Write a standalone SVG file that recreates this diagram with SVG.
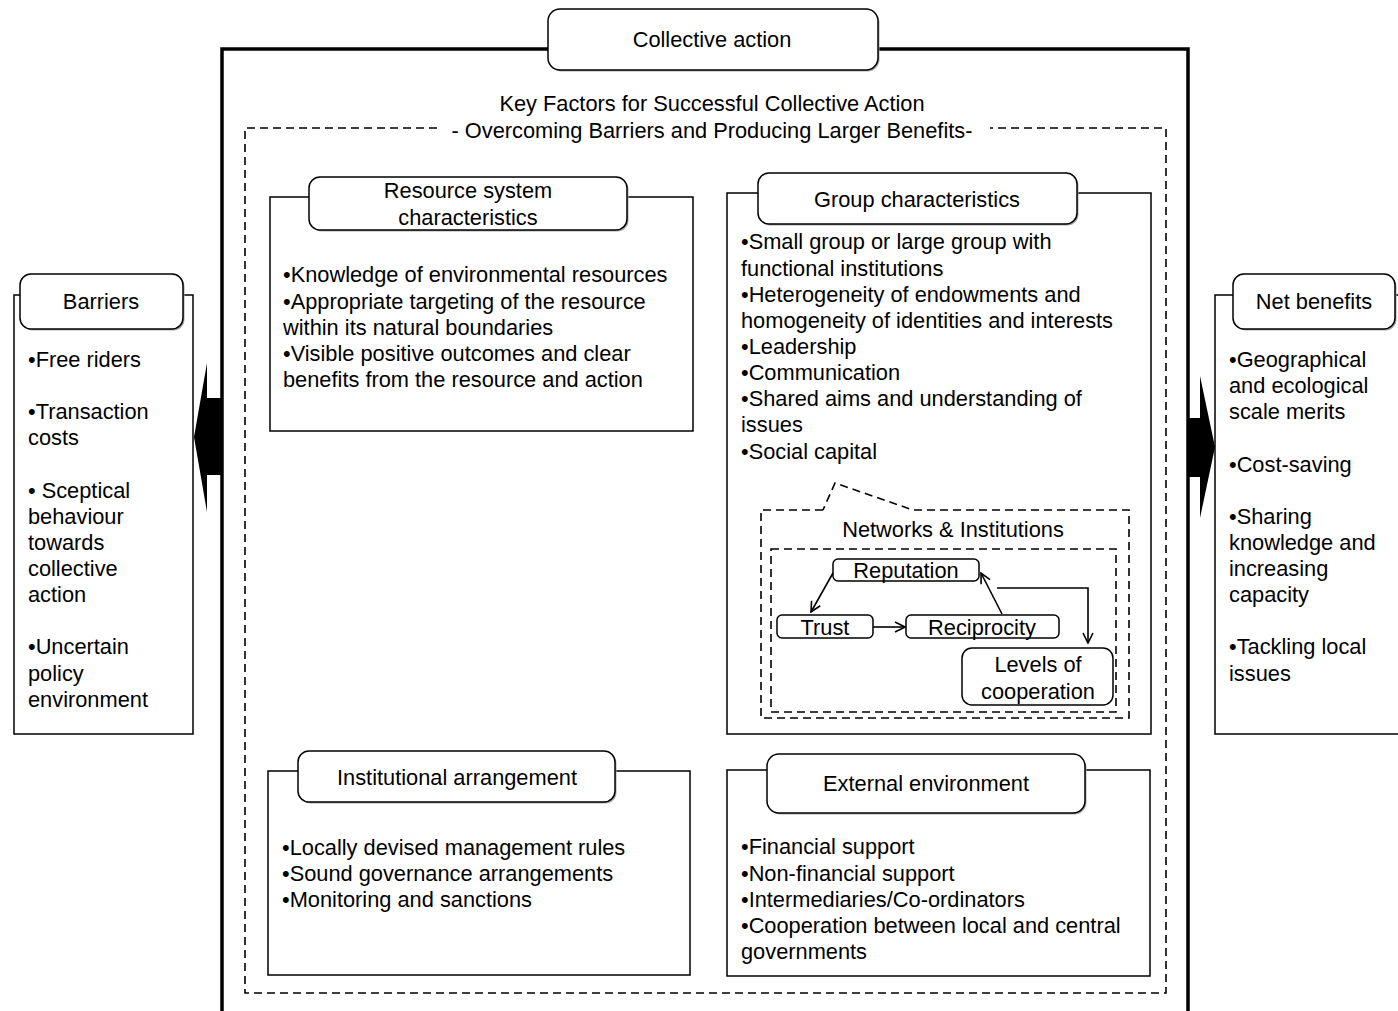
<svg xmlns="http://www.w3.org/2000/svg" width="1398" height="1011" viewBox="0 0 1398 1011">
<defs>
<style>
text{font-family:"Liberation Sans",Arial,sans-serif;font-size:21.8px;fill:#000}
.c{text-anchor:middle}
.box{fill:#fff;stroke:#000;stroke-width:1.5}
.ttl{fill:#fff;stroke:#000;stroke-width:1.5}
.sh{fill:#a8a8a8;stroke:none}
.dash{fill:none;stroke:#000;stroke-width:1.6;stroke-dasharray:8,5}
.thick{fill:none;stroke:#000;stroke-width:3.5}
.ln{fill:none;stroke:#000;stroke-width:1.6}
</style>
<marker id="v" viewBox="0 0 12 12" refX="11" refY="6" markerWidth="12" markerHeight="12" markerUnits="userSpaceOnUse" orient="auto">
<path d="M1,1 L11,6 L1,11" fill="none" stroke="#000" stroke-width="1.6"/>
</marker>
</defs>
<rect width="1398" height="1011" fill="#fff"/>

<!-- outer collective action frame -->
<g id="frame">
<path class="thick" d="M222,1011 V49 H1188 V1011"/>
</g>

<!-- big arrows -->
<g id="arrows">
<path d="M221,398 H207 V363 L194,437 L207,512 V475 H221 Z" fill="#000"/>
<path d="M1189,418 H1200 V376 L1215,447 L1200,518 V477 H1189 Z" fill="#000"/>
</g>

<g id="collective-action">
<rect class="sh" x="549.5" y="10.5" width="330" height="61" rx="12"/>
<rect class="ttl" x="548" y="9" width="330" height="61" rx="12"/>
<text class="c" x="712" y="47">Collective action</text>
</g>

<g id="key-factors">
<text class="c" x="712" y="111">Key Factors for Successful Collective Action</text>
<text class="c" x="712" y="138">- Overcoming Barriers and Producing Larger Benefits-</text>
<path class="dash" d="M437,128 H245 V993 H1166 V128 H990"/>
</g>

<g id="barriers">
<rect class="box" x="14" y="295" width="179" height="439"/>
<rect class="sh" x="21.5" y="275.5" width="163" height="55" rx="11"/>
<rect class="ttl" x="20" y="274" width="163" height="55" rx="11"/>
<text class="c" x="101" y="309">Barriers</text>
<text x="28" y="367">•Free riders</text>
<text x="28" y="419">•Transaction</text>
<text x="28" y="445">costs</text>
<text x="28" y="498">• Sceptical</text>
<text x="28" y="524">behaviour</text>
<text x="28" y="550">towards</text>
<text x="28" y="576">collective</text>
<text x="28" y="602">action</text>
<text x="28" y="654">•Uncertain</text>
<text x="28" y="681">policy</text>
<text x="28" y="707">environment</text>
</g>

<g id="net-benefits">
<rect class="box" x="1215" y="295" width="190" height="439"/>
<rect class="sh" x="1234.5" y="275.5" width="162" height="55" rx="11"/>
<rect class="ttl" x="1233" y="274" width="162" height="55" rx="11"/>
<text class="c" x="1314" y="309">Net benefits</text>
<text x="1229" y="367">•Geographical</text>
<text x="1229" y="393">and ecological</text>
<text x="1229" y="419">scale merits</text>
<text x="1229" y="472">•Cost-saving</text>
<text x="1229" y="524">•Sharing</text>
<text x="1229" y="550">knowledge and</text>
<text x="1229" y="576">increasing</text>
<text x="1229" y="602">capacity</text>
<text x="1229" y="654">•Tackling local</text>
<text x="1229" y="681">issues</text>
</g>

<g id="resource-system">
<rect class="box" x="270" y="197" width="423" height="234"/>
<rect class="sh" x="310.5" y="178.5" width="318" height="53" rx="11"/>
<rect class="ttl" x="309" y="177" width="318" height="53" rx="11"/>
<text class="c" x="468" y="198">Resource system</text>
<text class="c" x="468" y="225">characteristics</text>
<text x="283" y="282">•Knowledge of environmental resources</text>
<text x="283" y="309">•Appropriate targeting of the resource</text>
<text x="283" y="335">within its natural boundaries</text>
<text x="283" y="361">•Visible positive outcomes and clear</text>
<text x="283" y="387">benefits from the resource and action</text>
</g>

<g id="group-characteristics">
<rect class="box" x="727" y="193" width="424" height="541"/>
<rect class="sh" x="759.5" y="174.5" width="319" height="51" rx="11"/>
<rect class="ttl" x="758" y="173" width="319" height="51" rx="11"/>
<text class="c" x="917" y="207">Group characteristics</text>
<text x="741" y="249">•Small group or large group with</text>
<text x="741" y="276">functional institutions</text>
<text x="741" y="302">•Heterogeneity of endowments and</text>
<text x="741" y="328">homogeneity of identities and interests</text>
<text x="741" y="354">•Leadership</text>
<text x="741" y="380">•Communication</text>
<text x="741" y="406">•Shared aims and understanding of</text>
<text x="741" y="432">issues</text>
<text x="741" y="459">•Social capital</text>
</g>

<g id="networks-institutions">
<path class="dash" d="M823,510 H761 V718 H1129 V510 H913 L835,483 L823,510"/>
<text class="c" x="953" y="537">Networks &amp; Institutions</text>
<rect class="dash" x="771" y="549" width="345" height="163"/>
</g>

<g id="reputation">
<rect class="box" x="833" y="559" width="146" height="22" rx="5"/>
<text class="c" x="906" y="578">Reputation</text>
</g>
<g id="trust">
<rect class="box" x="777" y="615" width="96" height="23" rx="5"/>
<text class="c" x="825" y="635">Trust</text>
</g>
<g id="reciprocity">
<rect class="box" x="906" y="615" width="153" height="23" rx="5"/>
<text class="c" x="982" y="635">Reciprocity</text>
</g>
<g id="levels-of-cooperation">
<rect class="box" x="962" y="648" width="151" height="57" rx="10"/>
<text class="c" x="1038" y="672">Levels of</text>
<text class="c" x="1038" y="699">cooperation</text>
</g>

<g id="connectors">
<line class="ln" x1="833" y1="573" x2="811" y2="612" marker-end="url(#v)"/>
<line class="ln" x1="873" y1="627" x2="905" y2="627" marker-end="url(#v)"/>
<line class="ln" x1="1002" y1="614" x2="981" y2="573" marker-end="url(#v)"/>
<path class="ln" d="M997,588 H1088 V643" marker-end="url(#v)"/>
</g>

<g id="institutional-arrangement">
<rect class="box" x="268" y="771" width="422" height="204"/>
<rect class="sh" x="299.5" y="752.5" width="317" height="51" rx="11"/>
<rect class="ttl" x="298" y="751" width="317" height="51" rx="11"/>
<text class="c" x="457" y="785">Institutional arrangement</text>
<text x="282" y="855">•Locally devised management rules</text>
<text x="282" y="881">•Sound governance arrangements</text>
<text x="282" y="907">•Monitoring and sanctions</text>
</g>

<g id="external-environment">
<rect class="box" x="727" y="770" width="423" height="206"/>
<rect class="sh" x="768.5" y="755.5" width="318" height="59" rx="12"/>
<rect class="ttl" x="767" y="754" width="318" height="59" rx="12"/>
<text class="c" x="926" y="791">External environment</text>
<text x="741" y="854">•Financial support</text>
<text x="741" y="881">•Non-financial support</text>
<text x="741" y="907">•Intermediaries/Co-ordinators</text>
<text x="741" y="933">•Cooperation between local and central</text>
<text x="741" y="959">governments</text>
</g>
</svg>
